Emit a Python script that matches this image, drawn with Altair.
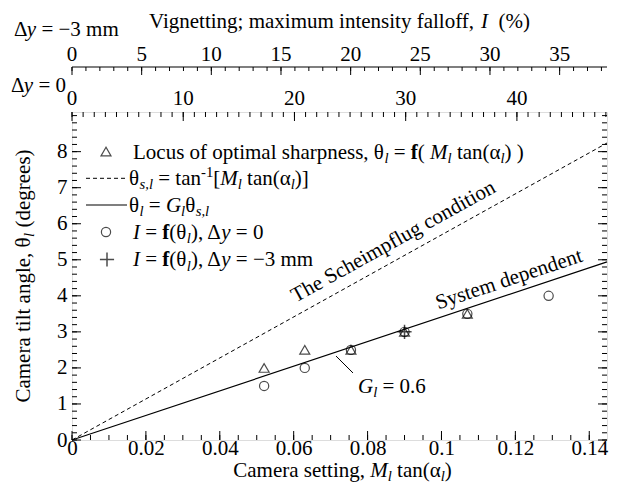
import math
import altair as alt
import pandas as pd

# ---------------- data ----------------
tri_x = [0.052, 0.063, 0.0755, 0.090, 0.107]
tri_y = [2.0, 2.5, 2.5, 3.0, 3.5]
circ_x = [0.052, 0.063, 0.0755, 0.090, 0.107, 0.129]
circ_y = [1.5, 2.0, 2.5, 3.0, 3.5, 4.0]
plus_x = [0.090]
plus_y = [3.0]
line_x = [0.0, 0.1448]
scheimpflug_y = [0.0, 8.24]
system_y = [0.0, 4.94]

x_major = [0, 0.02, 0.04, 0.06, 0.08, 0.1, 0.12, 0.14]
y_major = [0, 1, 2, 3, 4, 5, 6, 7, 8]
top0_major = [0, 10, 20, 30, 40]
top3_major = [0, 5, 10, 15, 20, 25, 30, 35]
x_minor = [round(i * 0.005, 4) for i in range(0, 29)]
y_minor = [round(i * 0.2, 2) for i in range(0, 46)]
top0_minor = list(range(0, 49))
top3_minor = list(range(0, 39))

X_DOM = [0, 0.1448]
Y_DOM = [0, 9.1]
T0_DOM = [0, 48.1]
T3_DOM = [0, 38.4]

W, H = 535, 328
FONT = "Liberation Serif"
FS = 21
MAJ, MIN = 9, 5
TOP3_Y = -45

# ---------------- rich text helper ----------------
TW = {' ': 250, '(': 333, ')': 333, ',': 250, '-': 333, '.': 250, ';': 278, '=': 564,
      '[': 333, ']': 333, '%': 833, 'θ': 500, 'α': 520, 'Δ': 612, '−': 564}
for c in '0123456789':
    TW[c] = 500
TW.update(dict(a=444, b=500, c=444, d=500, e=444, f=333, g=500, h=500, i=278, j=278, k=500,
               l=278, m=778, n=500, o=500, p=500, q=500, r=333, s=389, t=278, u=500, v=500,
               w=722, x=500, y=500, z=444, A=722, C=667, G=722, I=333, L=611, M=889, S=556,
               T=611, V=722))
ITW = dict(M=833, I=333, G=722, y=444, l=278, s=389, f=278)
BW = dict(f=333)


def width(t, st, fs):
    tab = dict(TW)
    if st == 'i':
        tab.update(ITW)
    if st == 'b':
        tab.update(BW)
    return sum(tab.get(c, 500) for c in t) * fs / 1000.0


def N(t): return (t, 'n', '')
def It(t): return (t, 'i', '')
def B(t): return (t, 'b', '')
def SI(t): return (t, 'i', 'sub')
def SUP(t): return (t, 'n', 'sup')


def rich(segs, x, y, size=FS, angle=0, align='left'):
    items, total = [], 0.0
    for t, st, pos in segs:
        fs = size * 0.7 if pos else size
        lead = len(t) - len(t.lstrip(' '))
        items.append((t.lstrip(' '), st, pos, fs, total + width(' ' * lead, st, fs)))
        total += width(t, st, fs)
    off = 0 if align == 'left' else (-total / 2 if align == 'center' else -total)
    a = math.radians(angle)
    ax, ay = math.cos(a), math.sin(a)
    dx, dy = -math.sin(a), math.cos(a)
    rows = []
    for t, st, pos, fs, adv in items:
        sh = 0.2 * size if pos == 'sub' else (-0.4 * size if pos == 'sup' else 0)
        d = adv + off
        rows.append(dict(x=x + d * ax + sh * dx, y=y + d * ay + sh * dy, t=t, st=st, fs=fs, ang=angle))
    return rows


BL = 0.33 * FS  # centre -> alphabetic baseline

LEG_TX_M, LEG_TX_L = 61, 57
LEG_MK = 34
rows_y = [39.6, 66.3, 93, 120, 147.5]
texts = []
texts += rich([N("Locus of optimal sharpness, θ"), SI("l"), N(" = "), B("f"), N("( "), It("M"), SI("l"),
               N(" tan(α"), SI("l"), N(") )")], LEG_TX_M, rows_y[0] + BL)
texts += rich([N("θ"), SI("s,l"), N(" = tan"), SUP("-1"), N("["), It("M"), SI("l"), N(" tan(α"), SI("l"),
               N(")]")], LEG_TX_L, rows_y[1] + BL)
texts += rich([N("θ"), SI("l"), N(" = "), It("G"), SI("l"), N("θ"), SI("s,l")], LEG_TX_L, rows_y[2] + BL)
texts += rich([It("I"), N(" = "), B("f"), N("(θ"), SI("l"), N("), Δ"), It("y"), N(" = 0")],
              LEG_TX_M, rows_y[3] + BL)
texts += rich([It("I"), N(" = "), B("f"), N("(θ"), SI("l"), N("), Δ"), It("y"), N(" = −3 mm")],
              LEG_TX_M, rows_y[4] + BL)
# titles
texts += rich([N("Vignetting; maximum intensity falloff, "), It("I"), N("  (%)")], W / 2, -91 + BL,
              align='center')
texts += rich([N("Δ"), It("y"), N(" = −3 mm")], -58, -83 + BL)
texts += rich([N("Δ"), It("y"), N(" = 0")], -61, -27 + BL)
texts += rich([N("Camera setting, "), It("M"), SI("l"), N(" tan(α"), SI("l"), N(")")], W / 2 + 3, 365,
              align='center')
texts += rich([N("Camera tilt angle, θ"), SI("l"), N(" (degrees)")], -49 + BL, H / 2, angle=270,
              align='center')
texts += rich([It("G"), SI("l"), N(" = 0.6")], 286, 274 + BL)
tdf = pd.DataFrame(texts)

# ---------------- scales / axes ----------------
xs = alt.Scale(domain=X_DOM, nice=False, zero=False)
ys = alt.Scale(domain=Y_DOM, nice=False, zero=False)
t0s = alt.Scale(domain=T0_DOM, nice=False, zero=False)
t3s = alt.Scale(domain=T3_DOM, nice=False, zero=False)

xaxis = alt.Axis(orient='bottom', values=x_major, format='~g', ticks=False, domain=False, grid=False,
                 labelFont=FONT, labelFontSize=FS, labelColor='black', labelPadding=14,
                 labelBaseline='alphabetic', title=None, labelFlush=False, labelOverlap=False)
yaxis = alt.Axis(orient='left', values=y_major, format='~g', ticks=False, domain=False, grid=False,
                 labelFont=FONT, labelFontSize=FS, labelColor='black', labelPadding=5, title=None,
                 labelFlush=False, labelOverlap=False)


def X(f):
    return alt.X(f, type='quantitative', scale=xs, axis=xaxis)


def Y(f):
    return alt.Y(f, type='quantitative', scale=ys, axis=yaxis)


def vdf(vals):
    return pd.DataFrame({'v': vals})


one = pd.DataFrame({'a': [0]})

# ---------------- main group ----------------
dashed = alt.Chart(pd.DataFrame({'x': line_x, 'y': scheimpflug_y})).mark_line(
    color='black', strokeWidth=1, strokeDash=[4, 3]).encode(x=X('x'), y=Y('y'))
solid = alt.Chart(pd.DataFrame({'x': line_x, 'y': system_y})).mark_line(
    color='black', strokeWidth=1.2).encode(x=X('x'), y=Y('y'))
tri = alt.Chart(pd.DataFrame({'x': tri_x, 'y': tri_y})).mark_point(
    shape='triangle-up', filled=False, size=100, strokeWidth=1.2, color='black').encode(x=X('x'), y=Y('y'))
circ = alt.Chart(pd.DataFrame({'x': circ_x, 'y': circ_y})).mark_point(
    shape='circle', filled=False, size=85, strokeWidth=1.2, color='black').encode(x=X('x'), y=Y('y'))
PLUS = 'M-1,0L1,0M0,-1L0,1'
plus = alt.Chart(pd.DataFrame({'x': plus_x, 'y': plus_y})).mark_point(
    shape=PLUS, filled=False, size=200, strokeWidth=1.5, color='black').encode(x=X('x'), y=Y('y'))

bot_maj = alt.Chart(vdf(x_major)).mark_rule(color='black').encode(x=X('v'), y=alt.value(H), y2=alt.value(H - MAJ))
bot_min = alt.Chart(vdf(x_minor)).mark_rule(color='black').encode(x=X('v'), y=alt.value(H), y2=alt.value(H - MIN))
left_maj = alt.Chart(vdf(y_major)).mark_rule(color='black').encode(y=Y('v'), x=alt.value(0), x2=alt.value(MAJ))
left_min = alt.Chart(vdf(y_minor)).mark_rule(color='black').encode(y=Y('v'), x=alt.value(0), x2=alt.value(MIN))
right_maj = alt.Chart(vdf(y_major)).mark_rule(color='black').encode(y=Y('v'), x=alt.value(W), x2=alt.value(W - MAJ))
right_min = alt.Chart(vdf(y_minor)).mark_rule(color='black').encode(y=Y('v'), x=alt.value(W), x2=alt.value(W - MIN))

ann1 = alt.Chart(pd.DataFrame({'x': [0.087], 'y': [5.5], 't': ['The Scheimpflug condition']})).mark_text(
    angle=331, font=FONT, fontSize=FS, baseline='middle', align='center', color='black').encode(
    x=X('x'), y=Y('y'), text='t:N')
ann2 = alt.Chart(pd.DataFrame({'x': [0.1183], 'y': [4.45], 't': ['System dependent']})).mark_text(
    angle=341.6, font=FONT, fontSize=FS, baseline='middle', align='center', color='black').encode(
    x=X('x'), y=Y('y'), text='t:N')
leader = alt.Chart(pd.DataFrame({'x': [0.07145], 'y': [2.33], 'x2': [0.07605], 'y2': [1.86]})).mark_rule(
    color='black', strokeWidth=1).encode(x=X('x'), y=Y('y'), x2='x2:Q', y2='y2:Q')

main = alt.layer(dashed, solid, tri, circ, plus, bot_maj, bot_min, left_maj, left_min, right_maj,
                 right_min, ann1, ann2, leader)

# ---------------- top axis, delta y = 0 ----------------
t0_maj = alt.Chart(vdf(top0_major)).mark_rule(color='black').encode(
    x=alt.X('v:Q', scale=t0s, axis=None), y=alt.value(0), y2=alt.value(MAJ))
t0_min = alt.Chart(vdf(top0_minor)).mark_rule(color='black').encode(
    x=alt.X('v:Q', scale=t0s, axis=None), y=alt.value(0), y2=alt.value(MIN))
t0_lab = alt.Chart(pd.DataFrame({'v': top0_major, 'lab': [str(v) for v in top0_major]})).mark_text(
    font=FONT, fontSize=FS, baseline='alphabetic', align='center', color='black').encode(
    x=alt.X('v:Q', scale=t0s, axis=None), y=alt.value(-7), text='lab:N')
top0 = alt.layer(t0_maj, t0_min, t0_lab)

# ---------------- top axis, delta y = -3 mm ----------------
t3_line = alt.Chart(one).mark_rule(color='black', strokeWidth=1.2).encode(
    x=alt.value(0), x2=alt.value(W), y=alt.value(TOP3_Y))
t3_maj = alt.Chart(vdf(top3_major)).mark_rule(color='black').encode(
    x=alt.X('v:Q', scale=t3s, axis=None), y=alt.value(TOP3_Y), y2=alt.value(TOP3_Y + MAJ - 1))
t3_min = alt.Chart(vdf(top3_minor)).mark_rule(color='black').encode(
    x=alt.X('v:Q', scale=t3s, axis=None), y=alt.value(TOP3_Y), y2=alt.value(TOP3_Y + MIN - 1))
t3_lab = alt.Chart(pd.DataFrame({'v': top3_major, 'lab': [str(v) for v in top3_major]})).mark_text(
    font=FONT, fontSize=FS, baseline='alphabetic', align='center', color='black').encode(
    x=alt.X('v:Q', scale=t3s, axis=None), y=alt.value(TOP3_Y - 6), text='lab:N')
top3 = alt.layer(t3_line, t3_maj, t3_min, t3_lab)

# ---------------- pixel-space texts and legend ----------------
PX = alt.X('x:Q', scale=None, axis=None)
PY = alt.Y('y:Q', scale=None, axis=None)


def text_layer(st, **kw):
    return alt.Chart(tdf[tdf.st == st]).mark_text(
        font=FONT, align='left', baseline='alphabetic', color='black', **kw).encode(
        x=PX, y=PY, text='t:N', size=alt.Size('fs:Q', scale=None, legend=None),
        angle=alt.Angle('ang:Q', scale=None, legend=None))


txt_n = text_layer('n')
txt_i = text_layer('i', fontStyle='italic')
txt_b = text_layer('b', fontWeight='bold')

leg_tri = alt.Chart(one).mark_point(shape='triangle-up', filled=False, size=100, strokeWidth=1.2,
                                    color='black').encode(x=alt.value(LEG_MK), y=alt.value(rows_y[0]))
leg_dash = alt.Chart(one).mark_rule(color='black', strokeWidth=1, strokeDash=[4, 3]).encode(
    x=alt.value(14), x2=alt.value(55), y=alt.value(rows_y[1]))
leg_solid = alt.Chart(one).mark_rule(color='black', strokeWidth=1.2).encode(
    x=alt.value(14), x2=alt.value(55), y=alt.value(rows_y[2]))
leg_circ = alt.Chart(one).mark_point(shape='circle', filled=False, size=85, strokeWidth=1.2,
                                     color='black').encode(x=alt.value(LEG_MK), y=alt.value(rows_y[3]))
leg_plus = alt.Chart(one).mark_point(shape=PLUS, filled=False, size=200, strokeWidth=1.5,
                                     color='black').encode(x=alt.value(LEG_MK + 1), y=alt.value(rows_y[4]))

pix = alt.layer(txt_n, txt_i, txt_b, leg_tri, leg_dash, leg_solid, leg_circ, leg_plus)

chart = alt.layer(main, top0, top3, pix).resolve_scale(x='independent', y='independent').properties(
    width=W, height=H, autosize=alt.AutoSizeParams(type='none'),
    padding={'left': 64, 'top': 104, 'right': 9, 'bottom': 45}
).configure_view(stroke='black', strokeWidth=1.6).configure(background='white')

chart.save("out.html", embed_options={"renderer": "svg", "actions": False})
